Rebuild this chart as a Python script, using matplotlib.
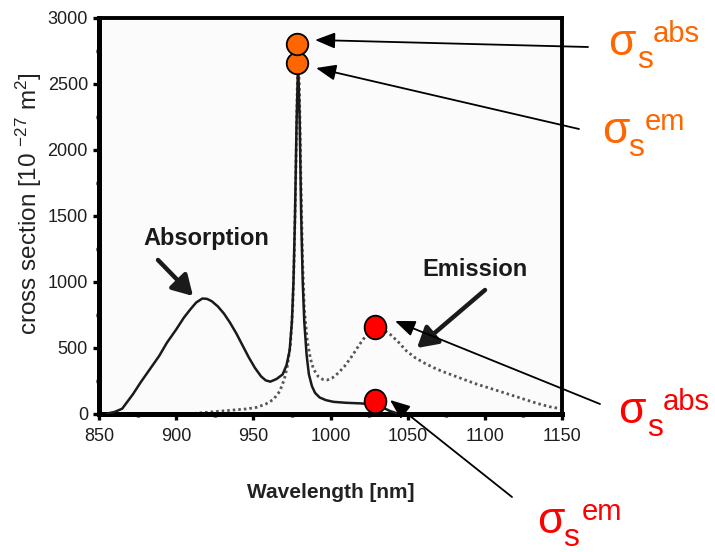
import matplotlib
matplotlib.use("Agg")
import matplotlib.pyplot as plt
import numpy as np
from matplotlib.path import Path
from matplotlib.ticker import MultipleLocator

plt.rcParams['font.family'] = ['Liberation Sans', 'DejaVu Sans']
plt.rcParams['mathtext.fontset'] = 'custom'
plt.rcParams['mathtext.rm'] = 'Liberation Sans'
plt.rcParams['mathtext.default'] = 'regular'

# Yb absorption cross section (solid curve)
wl_abs = [855, 860, 865, 872, 877, 883, 889, 894, 900, 905, 909, 913, 917, 920,
          923, 927, 931, 935, 939, 943, 947, 951, 955, 958, 961, 965, 969,
          971.5, 973.5, 975, 976, 977, 978, 979, 980, 981, 982, 983, 984.5,
          986, 988, 990, 993, 997, 1002, 1010, 1020, 1028, 1033, 1038, 1043]
sigma_abs = [3, 15, 40, 150, 240, 340, 440, 540, 640, 730, 790, 845, 875, 872,
             855, 815, 760, 690, 610, 520, 430, 350, 285, 255, 245, 265, 300,
             370, 480, 700, 1000, 1500, 2200, 2660, 2250, 1500, 1000, 700, 450,
             300, 210, 160, 125, 105, 92, 85, 80, 72, 55, 25, 5]

# Yb emission cross section (dotted curve)
wl_em = [908, 915, 925, 935, 945, 952, 958, 963, 967, 970, 972, 974, 975.5,
         976.5, 977.5, 978.5, 979, 979.8, 980.8, 981.8, 983, 985, 987, 989, 992,
         995, 998, 1001, 1005, 1009, 1014, 1019, 1024, 1029, 1034, 1039, 1044,
         1049, 1055, 1061, 1067, 1073, 1080, 1088, 1095, 1102, 1110, 1118, 1126,
         1134, 1142, 1149]
sigma_em = [0, 8, 18, 28, 38, 50, 75, 110, 170, 260, 360, 520, 800, 1200, 1800,
            2500, 2650, 2500, 1800, 1200, 800, 550, 420, 340, 285, 262, 258, 272,
            310, 360, 440, 530, 610, 655, 640, 600, 545, 480, 425, 385, 350, 320,
            290, 255, 225, 200, 170, 140, 110, 80, 55, 40]

# Pump (976 nm) and signal (1030 nm) cross-section points
pump_wl = 978.5
pump_abs, pump_em = 2800, 2660
sig_wl = 1029
sig_abs, sig_em = 660, 100

x_ticks = [850, 900, 950, 1000, 1050, 1100, 1150]
y_ticks = [0, 500, 1000, 1500, 2000, 2500, 3000]

W, H = 715, 552
fig = plt.figure(figsize=(W / 100, H / 100), dpi=100)
ax = fig.add_axes([99 / W, 138 / H, 463 / W, 396 / H])
ax.set_facecolor('#fbfbfb')


def px(x, y):
    return (x / W, 1 - y / H)


ax.plot(wl_abs, sigma_abs, color='#1a1a1a', lw=1.8, zorder=3,
        solid_capstyle='round', solid_joinstyle='round')
ax.plot(wl_em, sigma_em, color='#555555', lw=2.0, ls=(0, (0.9, 1.1)), zorder=2)

ax.set_xlim(850, 1150)
ax.set_ylim(0, 3000)
ax.set_xticks(x_ticks)
ax.set_yticks(y_ticks)
ax.xaxis.set_minor_locator(MultipleLocator(25))
ax.yaxis.set_minor_locator(MultipleLocator(250))
ax.tick_params(which='major', direction='out', length=4, width=2.4,
               labelsize=13, labelcolor='#1e1e1e', pad=4)
ax.tick_params(which='minor', direction='out', length=2.5, width=2.4)
ax.tick_params(axis='x', which='major', pad=6)
for side in ('left', 'bottom'):
    ax.spines[side].set_linewidth(3.6)
for side in ('top', 'right'):
    ax.spines[side].set_linewidth(2.8)

ax.set_xlabel('Wavelength [nm]', fontsize=15, fontweight='bold',
              color='#222222')
ax.xaxis.set_label_coords(0.5, -0.175)
ax.set_ylabel('cross section [10 $^{-27}$ m$^{2}$]', fontsize=17.5,
              color='#222222')
ax.yaxis.set_label_coords(-0.118, 0.53)

# markers: circles for the pump, slightly tall ellipses for the signal
ell = Path.unit_circle()
ell = Path(ell.vertices * np.array([0.92, 1.0]), ell.codes)
ax.plot([pump_wl], [pump_em], 'o', ms=15.5, mfc='#ff6600', mec='black',
        mew=1.3, zorder=5, clip_on=False)
ax.plot([pump_wl], [pump_abs], 'o', ms=15.5, mfc='#ff6600', mec='black',
        mew=1.3, zorder=6, clip_on=False)
ax.plot([sig_wl], [sig_abs], marker=ell, ls='none', ms=17, mfc='#ff0000',
        mec='black', mew=1.3, zorder=5)
ax.plot([sig_wl], [sig_em], marker=ell, ls='none', ms=17, mfc='#ff0000',
        mec='black', mew=1.3, zorder=5)

# curve labels with bold arrows
fig.text(*px(206, 238), 'Absorption', fontsize=17, fontweight='bold',
         color='#1a1a1a', ha='center', va='center')
fig.text(*px(475, 270), 'Emission', fontsize=17, fontweight='bold',
         color='#1a1a1a', ha='center', va='center')
bold_arrow = dict(arrowstyle='-|>,head_length=0.6,head_width=0.35',
                  color='#1a1a1a', lw=3.2, mutation_scale=20,
                  shrinkA=0, shrinkB=0)
fig.add_artist(matplotlib.patches.FancyArrowPatch(
    px(158, 260), px(193, 296), transform=fig.transFigure, **bold_arrow))
fig.add_artist(matplotlib.patches.FancyArrowPatch(
    px(485, 290), px(417, 348), transform=fig.transFigure, **bold_arrow))

# thin pointer arrows from the sigma labels to the markers
thin_arrow = dict(arrowstyle='-|>,head_length=0.55,head_width=0.22',
                  color='black', lw=1.3, mutation_scale=22,
                  shrinkA=0, shrinkB=0)
for start, tip in [((588, 47), (315, 40)), ((579, 129), (316, 68)),
                   ((600, 404), (395, 321)), ((512, 497), (390, 400))]:
    fig.add_artist(matplotlib.patches.FancyArrowPatch(
        px(*start), px(*tip), transform=fig.transFigure, zorder=10,
        **thin_arrow))


def sigma_label(x, y, sub_dx, sup_dx, sup, color):
    fig.text(*px(x, y), 'σ', fontsize=32, color=color, ha='left',
             va='baseline')
    fig.text(*px(x + sub_dx, y + 13), 's', fontsize=23, color=color,
             ha='left', va='baseline')
    fig.text(*px(x + sup_dx, y - 13), sup, fontsize=21, color=color,
             ha='left', va='baseline')


sigma_label(608, 55, 29, 45, 'abs', '#ff6600')
sigma_label(602, 143, 26, 43, 'em', '#ff6600')
sigma_label(618, 423, 29, 45, 'abs', '#ff0000')
sigma_label(537, 533, 26, 45, 'em', '#ff0000')

fig.savefig('out.png', dpi=100)
